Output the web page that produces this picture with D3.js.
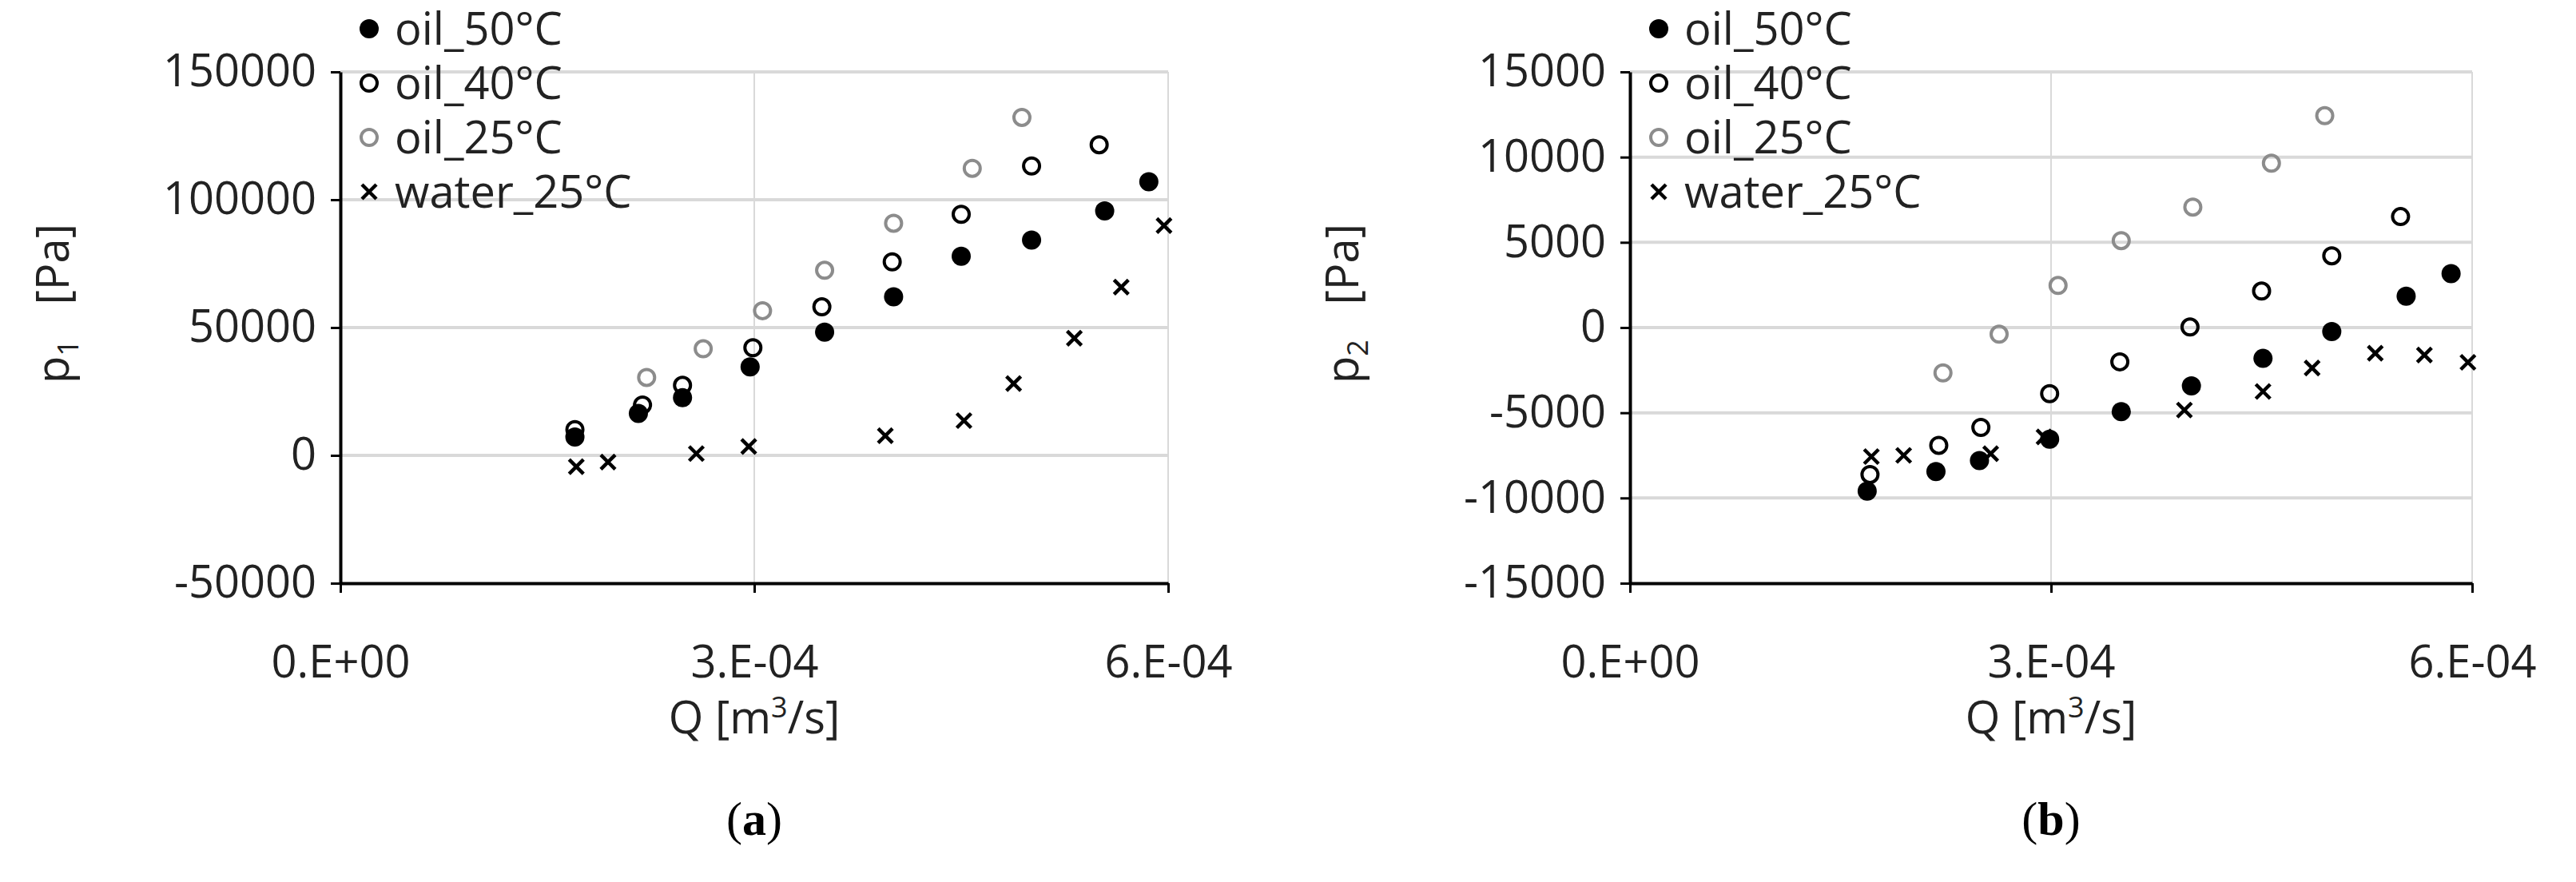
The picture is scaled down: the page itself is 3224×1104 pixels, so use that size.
<!DOCTYPE html>
<html><head><meta charset="utf-8">
<script src="https://cdn.jsdelivr.net/npm/d3@7"></script>
<style>body{margin:0;background:#fff}</style>
</head><body>
<svg id="c" width="3224" height="1104"></svg>
<script>
// --- data ---
const seriesNames = ["oil_50°C", "oil_40°C", "oil_25°C", "water_25°C"];
const xTicks = [0, 3e-4, 6e-4];
const xTickLabels = ["0.E+00", "3.E-04", "6.E-04"];

// panel (a): p1 [Pa]
const aOil50 = [[1.70e-4,7200],[2.16e-4,16400],[2.48e-4,22600],[2.97e-4,34600],[3.51e-4,48200],[4.01e-4,62000],[4.50e-4,77900],[5.01e-4,84200],[5.54e-4,95600],[5.86e-4,107000]];
const aOil40 = [[1.70e-4,10100],[2.19e-4,19700],[2.48e-4,27400],[2.99e-4,42100],[3.49e-4,58100],[4.00e-4,75700],[4.50e-4,94300],[5.01e-4,113200],[5.50e-4,121500]];
const aOil25 = [[2.22e-4,30500],[2.63e-4,41700],[3.06e-4,56600],[3.51e-4,72400],[4.01e-4,90800],[4.58e-4,112300],[4.94e-4,132200]];
const aWater = [[1.71e-4,-4400],[1.94e-4,-2600],[2.58e-4,700],[2.96e-4,3500],[3.95e-4,7700],[4.52e-4,13600],[4.88e-4,28100],[5.32e-4,45800],[5.66e-4,65800],[5.97e-4,89900]];
const aYTicks = [-50000, 0, 50000, 100000, 150000];

// panel (b): p2 [Pa]
const bOil50 = [[1.69e-4,-9600],[2.18e-4,-8450],[2.49e-4,-7800],[2.99e-4,-6550],[3.50e-4,-4930],[4.00e-4,-3420],[4.51e-4,-1810],[5.00e-4,-230],[5.53e-4,1840],[5.85e-4,3160]];
const bOil40 = [[1.71e-4,-8620],[2.20e-4,-6910],[2.50e-4,-5860],[2.99e-4,-3880],[3.49e-4,-2010],[3.99e-4,30],[4.50e-4,2140],[5.00e-4,4210],[5.49e-4,6510]];
const bOil25 = [[2.23e-4,-2660],[2.63e-4,-390],[3.05e-4,2470],[3.50e-4,5100],[4.01e-4,7070],[4.57e-4,9640],[4.95e-4,12430]];
const bWater = [[1.72e-4,-7570],[1.95e-4,-7500],[2.57e-4,-7400],[2.95e-4,-6420],[3.95e-4,-4840],[4.51e-4,-3750],[4.86e-4,-2370],[5.31e-4,-1510],[5.66e-4,-1610],[5.97e-4,-2040]];
const bYTicks = [-15000, -10000, -5000, 0, 5000, 10000, 15000];

const FONT = "'Open Sans', sans-serif";
const FS = 56;
const svg = d3.select("#c");

function drawMarker(g, kind, x, y) {
  if (kind === 0) g.append("circle").attr("cx", x).attr("cy", y).attr("r", 12).attr("fill", "#000");
  else if (kind === 1) g.append("circle").attr("cx", x).attr("cy", y).attr("r", 10).attr("fill", "none").attr("stroke", "#000").attr("stroke-width", 4);
  else if (kind === 2) g.append("circle").attr("cx", x).attr("cy", y).attr("r", 10).attr("fill", "none").attr("stroke", "#8c8c8c").attr("stroke-width", 4);
  else {
    const s = 9;
    g.append("path").attr("d", `M${x-s},${y-s}L${x+s},${y+s}M${x-s},${y+s}L${x+s},${y-s}`)
      .attr("stroke", "#000").attr("stroke-width", 4.5);
  }
}

function panel(left, right, yDomain, yTicks, series, yLabel, tag) {
  const top = 90, bottom = 730;
  const x = d3.scaleLinear().domain([0, 6e-4]).range([left, right]);
  const y = d3.scaleLinear().domain(yDomain).range([bottom, top]);
  const g = svg.append("g");

  // gridlines
  g.selectAll("line.hg").data(yTicks.slice(1)).enter().append("line")
    .attr("x1", left).attr("x2", right).attr("y1", d => y(d)).attr("y2", d => y(d))
    .attr("stroke", "#d9d9d9").attr("stroke-width", 4);
  g.selectAll("line.vg").data(xTicks.slice(1)).enter().append("line")
    .attr("x1", d => x(d)).attr("x2", d => x(d)).attr("y1", top).attr("y2", bottom)
    .attr("stroke", "#d9d9d9").attr("stroke-width", 2);

  // axes
  const ya = g.append("g").attr("transform", `translate(${left},0)`)
    .call(d3.axisLeft(y).tickValues(yTicks).tickFormat(d => String(d)).tickSize(12).tickSizeOuter(0).tickPadding(18));
  const xa = g.append("g").attr("transform", `translate(0,${bottom})`)
    .call(d3.axisBottom(x).tickValues(xTicks).tickFormat((d, i) => xTickLabels[i]).tickSize(12).tickSizeOuter(0).tickPadding(66));
  [ya, xa].forEach(a => {
    a.select(".domain").attr("stroke", "#000").attr("stroke-width", 4);
    a.selectAll(".tick line").attr("stroke", "#000").attr("stroke-width", 3);
    a.selectAll("text").attr("font-family", FONT).attr("font-size", FS).attr("fill", "#222");
  });

  // points
  series.forEach((data, k) => data.forEach(d => drawMarker(g, k, x(d[0]), y(d[1]))));

  // legend
  seriesNames.forEach((n, i) => {
    const ly = 36 + i * 68;
    drawMarker(g, i, left + 36, ly);
    g.append("text").attr("x", left + 68).attr("y", ly + 20).attr("font-family", FONT)
      .attr("font-size", FS).attr("fill", "#222").text(n);
  });

  // axis titles
  const yt = g.append("text").attr("transform", `translate(${left - 340},${(top + bottom) / 2 - 30}) rotate(-90)`)
    .attr("text-anchor", "middle").attr("font-family", FONT).attr("font-size", FS).attr("fill", "#222");
  yt.append("tspan").text("p");
  yt.append("tspan").attr("font-size", 36).attr("dy", 12).text(yLabel);
  yt.append("tspan").attr("dy", -12).attr("xml:space", "preserve").text("   [Pa]");

  const xt = g.append("text").attr("x", (left + right) / 2).attr("y", 918).attr("text-anchor", "middle")
    .attr("font-family", FONT).attr("font-size", FS).attr("fill", "#222");
  xt.append("tspan").text("Q [m");
  xt.append("tspan").attr("font-size", 36).attr("dy", -20).text("3");
  xt.append("tspan").attr("dy", 20).text("/s]");

  const cap = g.append("text").attr("x", (left + right) / 2).attr("y", 1045).attr("text-anchor", "middle")
    .attr("font-family", "'Liberation Serif', serif").attr("font-size", 60).attr("fill", "#000");
  cap.append("tspan").text("(");
  cap.append("tspan").attr("font-weight", "bold").text(tag);
  cap.append("tspan").text(")");
}

panel(426, 1462, [-50000, 150000], aYTicks, [aOil50, aOil40, aOil25, aWater], "1", "a");
panel(2040, 3094, [-15000, 15000], bYTicks, [bOil50, bOil40, bOil25, bWater], "2", "b");
</script>
</body></html>
